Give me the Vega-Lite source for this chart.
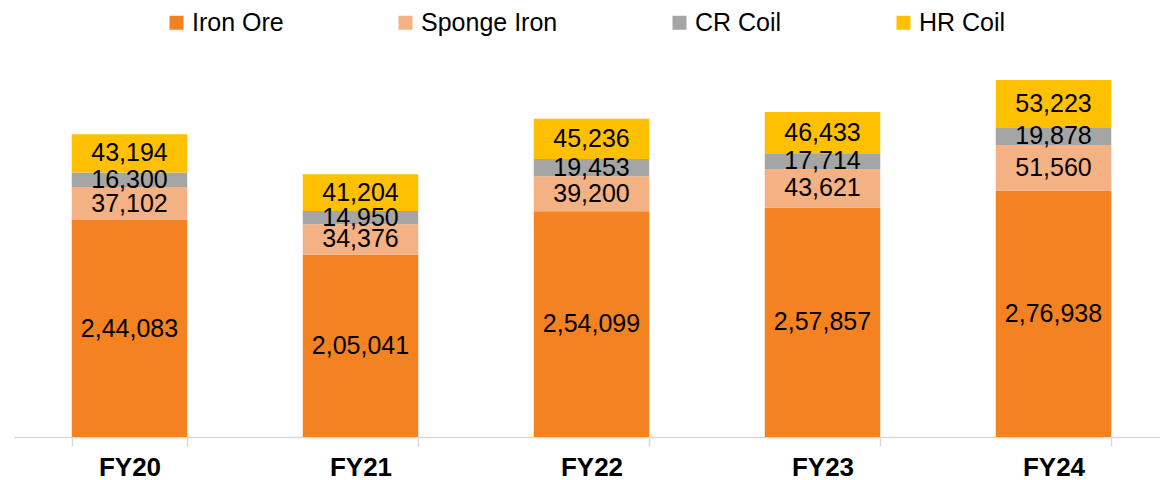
{
  "$schema": "https://vega.github.io/schema/vega-lite/v6.json",
  "width": 1146,
  "height": 377,
  "autosize": {"type": "none"},
  "padding": {"left": 14, "top": 60, "right": 0, "bottom": 43},
  "background": "white",
  "config": {"view": {"stroke": null}, "font": "Liberation Sans"},
  "data": {"values": [
    {"year": "FY20", "product": "Iron Ore", "rank": 1, "value": 244083, "label": "2,44,083"},
    {"year": "FY20", "product": "Sponge Iron", "rank": 2, "value": 37102, "label": "37,102"},
    {"year": "FY20", "product": "CR Coil", "rank": 3, "value": 16300, "label": "16,300"},
    {"year": "FY20", "product": "HR Coil", "rank": 4, "value": 43194, "label": "43,194"},
    {"year": "FY21", "product": "Iron Ore", "rank": 1, "value": 205041, "label": "2,05,041"},
    {"year": "FY21", "product": "Sponge Iron", "rank": 2, "value": 34376, "label": "34,376"},
    {"year": "FY21", "product": "CR Coil", "rank": 3, "value": 14950, "label": "14,950"},
    {"year": "FY21", "product": "HR Coil", "rank": 4, "value": 41204, "label": "41,204"},
    {"year": "FY22", "product": "Iron Ore", "rank": 1, "value": 254099, "label": "2,54,099"},
    {"year": "FY22", "product": "Sponge Iron", "rank": 2, "value": 39200, "label": "39,200"},
    {"year": "FY22", "product": "CR Coil", "rank": 3, "value": 19453, "label": "19,453"},
    {"year": "FY22", "product": "HR Coil", "rank": 4, "value": 45236, "label": "45,236"},
    {"year": "FY23", "product": "Iron Ore", "rank": 1, "value": 257857, "label": "2,57,857"},
    {"year": "FY23", "product": "Sponge Iron", "rank": 2, "value": 43621, "label": "43,621"},
    {"year": "FY23", "product": "CR Coil", "rank": 3, "value": 17714, "label": "17,714"},
    {"year": "FY23", "product": "HR Coil", "rank": 4, "value": 46433, "label": "46,433"},
    {"year": "FY24", "product": "Iron Ore", "rank": 1, "value": 276938, "label": "2,76,938"},
    {"year": "FY24", "product": "Sponge Iron", "rank": 2, "value": 51560, "label": "51,560"},
    {"year": "FY24", "product": "CR Coil", "rank": 3, "value": 19878, "label": "19,878"},
    {"year": "FY24", "product": "HR Coil", "rank": 4, "value": 53223, "label": "53,223"}
  ]},
  "encoding": {
    "x": {
      "field": "year", "type": "nominal", "title": null,
      "scale": {"range": [0, 1155], "paddingInner": 0.5, "paddingOuter": 0.25},
      "axis": {
        "labelAngle": 0, "labelFont": "Liberation Sans", "labelFontSize": 26, "labelFontWeight": "bold",
        "labelColor": "#000000", "labelPadding": 8,
        "domainColor": "#D9D9D9", "domainWidth": 1.5,
        "tickColor": "#D9D9D9", "tickWidth": 1.5, "tickSize": 9, "tickBand": "extent"
      }
    },
    "order": {"field": "rank", "type": "quantitative", "sort": "ascending"}
  },
  "layer": [
    {
      "mark": {"type": "bar"},
      "encoding": {
        "y": {
          "field": "value", "type": "quantitative", "stack": "zero",
          "scale": {"domain": [0, 424125], "nice": false},
          "axis": null
        },
        "color": {
          "field": "product", "type": "nominal",
          "sort": ["Iron Ore", "Sponge Iron", "CR Coil", "HR Coil"],
          "scale": {"domain": ["Iron Ore", "Sponge Iron", "CR Coil", "HR Coil"], "range": ["#F58220", "#F4B183", "#A5A5A5", "#FFC000"]},
          "legend": {
            "title": null, "orient": "none", "direction": "horizontal",
            "legendX": 150, "legendY": -50,
            "symbolType": "square", "symbolSize": 196, "symbolStrokeWidth": 0, "symbolOpacity": 1,
            "labelFont": "Liberation Sans", "labelFontSize": 25, "labelColor": "#000000",
            "labelOffset": 3, "columnPadding": 109
          }
        }
      }
    },
    {
      "mark": {"type": "text", "font": "Liberation Sans", "fontSize": 25, "color": "#000000", "baseline": "middle", "align": "center"},
      "encoding": {
        "y": {
          "field": "value", "type": "quantitative", "stack": "zero", "bandPosition": 0.5,
          "scale": {"domain": [0, 424125], "nice": false},
          "axis": null
        },
        "detail": {"field": "product", "type": "nominal"},
        "text": {"field": "label", "type": "nominal"}
      }
    }
  ]
}
